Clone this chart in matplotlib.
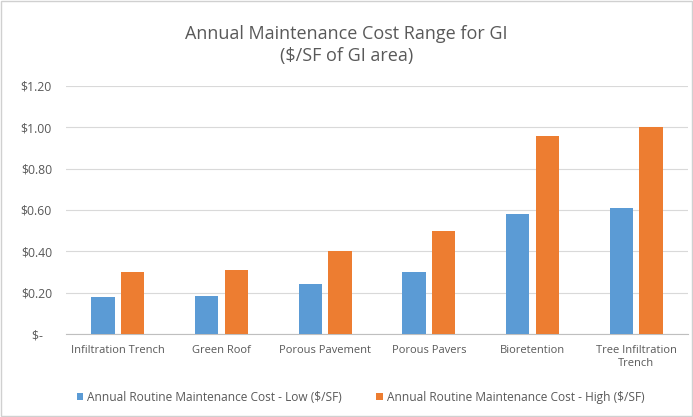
import numpy as np
import matplotlib.pyplot as plt
from matplotlib.patches import Rectangle

# Costo anual de mantenimiento por tipo de GI ($/SF)
categorias = ["Infiltration Trench", "Green Roof", "Porous Pavement", "Porous Pavers",
              "Bioretention", "Tree Infiltration\nTrench"]
costo_bajo = [0.18, 0.185, 0.24, 0.30, 0.58, 0.61]
costo_alto = [0.30, 0.31, 0.40, 0.50, 0.96, 1.00]
ticks_y = [0, 0.2, 0.4, 0.6, 0.8, 1.0, 1.2]
etiquetas_y = ["$-   ", "$0.20", "$0.40", "$0.60", "$0.80", "$1.00", "$1.20"]

plt.rcParams['font.family'] = ['Open Sans', 'DejaVu Sans']
gris = '#595959'

fig = plt.figure(figsize=(6.93, 4.17), dpi=100)
fig.patches.append(Rectangle((0.002, 0.003), 0.996, 0.994, transform=fig.transFigure,
                             fill=False, edgecolor='#D0D0D0', linewidth=1))
ax = fig.add_axes([0.095, 0.199, 0.898, 0.595])

x = np.arange(len(categorias))
ancho = 0.225
ax.bar(x - ancho/2 - 0.03, costo_bajo, ancho, color='#5B9BD5',
       label='Annual Routine Maintenance Cost - Low ($/SF)', zorder=3)
ax.bar(x + ancho/2 + 0.03, costo_alto, ancho, color='#ED7D31',
       label='Annual Routine Maintenance Cost - High ($/SF)', zorder=3)

ax.set_xlim(-0.5, len(categorias) - 0.5)
ax.set_ylim(0, 1.2)
ax.set_yticks(ticks_y)
ax.set_yticklabels(etiquetas_y)
ax.set_xticks(x)
ax.set_xticklabels(categorias)
ax.grid(axis='y', color='#D9D9D9', linewidth=0.8, zorder=0)
for lado in ['top', 'right', 'left']:
    ax.spines[lado].set_visible(False)
ax.spines['bottom'].set_color('#BFBFBF')
ax.tick_params(axis='both', length=0, labelsize=8, labelcolor=gris)
ax.tick_params(axis='y', pad=10, labelsize=8.8)
ax.tick_params(axis='x', pad=8)

fig.suptitle('Annual Maintenance Cost Range for GI\n($/SF of GI area)', y=0.94,
             fontsize=13, color=gris, linespacing=1.25)

ax.legend(loc='center left', bbox_to_anchor=(0.01, -0.255), ncol=2, frameon=False,
          fontsize=8.6, labelcolor=gris, handlelength=0.55, handleheight=0.55,
          handletextpad=0.3, columnspacing=2.9, borderaxespad=0)

plt.savefig('out.png', dpi=100)
